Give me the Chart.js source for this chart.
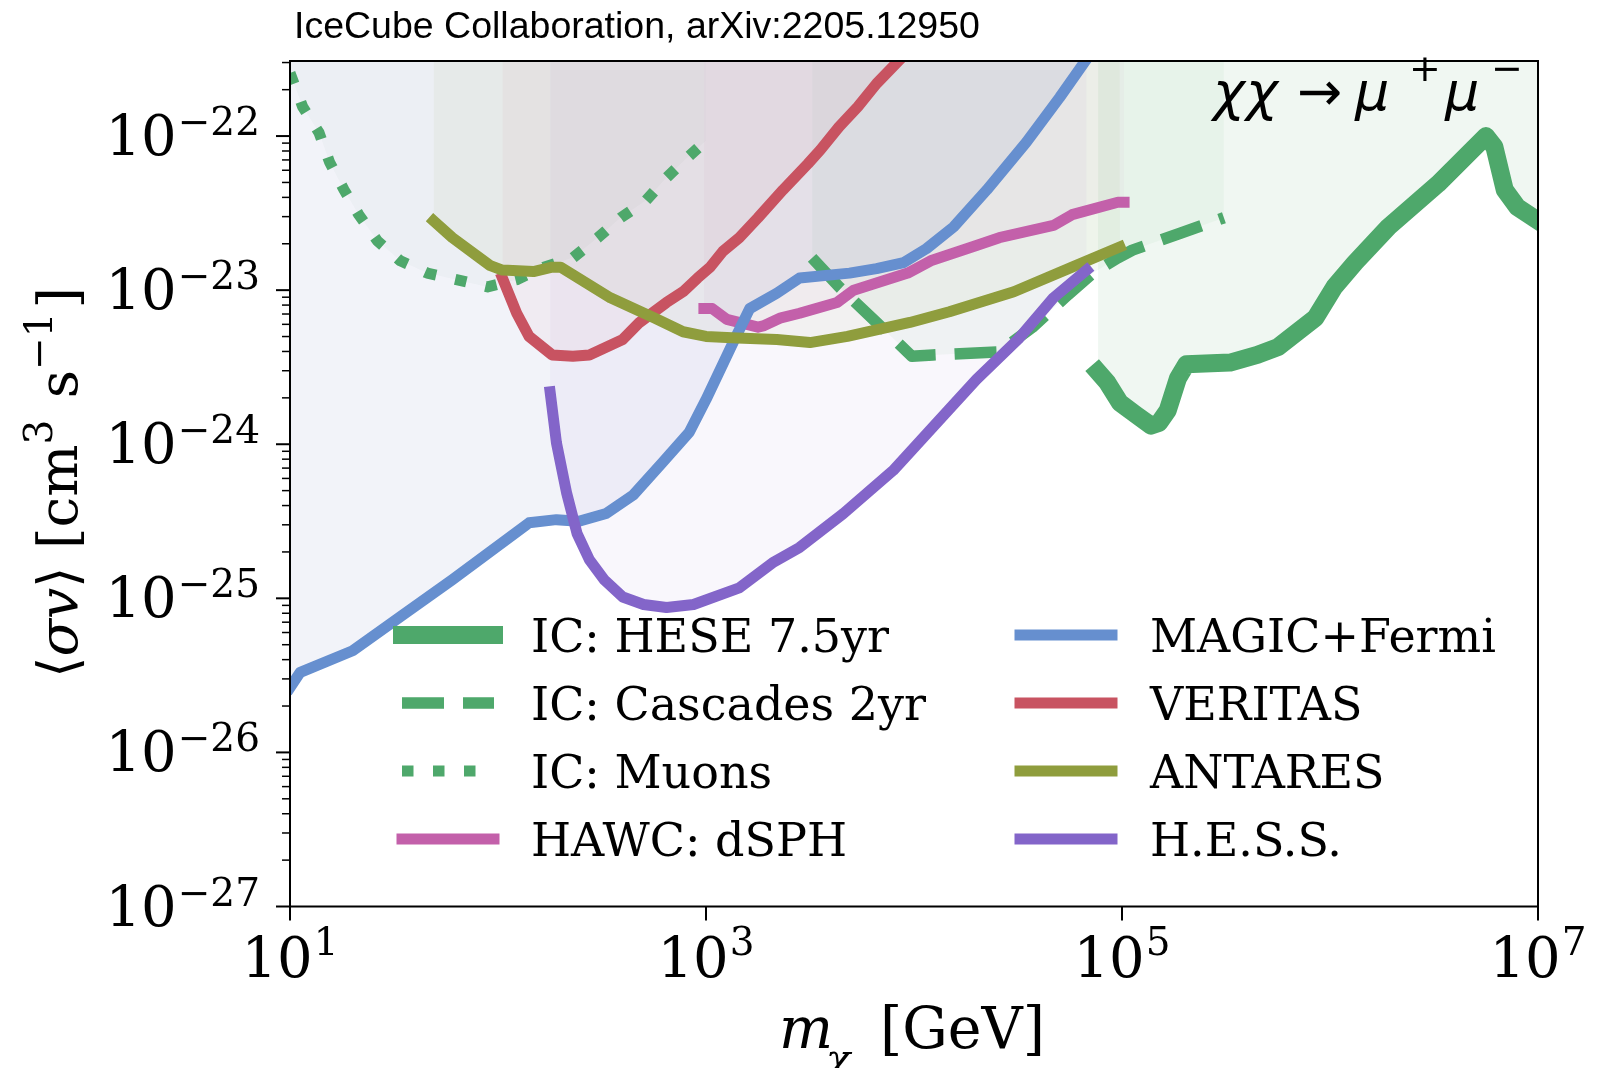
<!DOCTYPE html>
<html lang="en">
<head>
    <meta charset="UTF-8">
    <title>IceCube chi chi -> mu+ mu- limits</title>
    <script src="https://cdn.jsdelivr.net/npm/chart.js"></script>
    <style>
        body { margin: 0; background: #fff; }
        #wrap { width: 1608px; height: 1068px; }
    </style>
</head>
<body>
<div id="wrap"><canvas id="limits" width="1608" height="1068"></canvas></div>

<script>
    // values: m_chi in GeV, <sigma v> in cm^3 s^-1
    const heseMass = [7.67e4, 8.51e4, 9.77e4, 1.17e5, 1.38e5, 1.51e5, 1.66e5, 1.86e5, 2.04e5, 3.31e5, 4.47e5, 5.62e5, 8.51e5, 1.05e6, 1.32e6, 1.91e6, 3.31e6, 5.62e6, 6.17e6, 6.92e6, 7.94e6, 1e7];
    const heseSigmaV = [2.95e-24, 2.51e-24, 1.86e-24, 1.55e-24, 1.32e-24, 1.38e-24, 1.66e-24, 2.69e-24, 3.31e-24, 3.39e-24, 3.80e-24, 4.27e-24, 6.61e-24, 1.05e-23, 1.51e-23, 2.57e-23, 4.90e-23, 1.00e-22, 8.51e-23, 4.47e-23, 3.47e-23, 2.82e-23];

    const cascadesMass = [3236, 4365, 6607, 9772, 12303, 25704, 37154, 54954, 72444, 95499, 112202, 190546, 309030];
    const cascadesSigmaV = [1.62e-23, 1.05e-23, 6.17e-24, 3.72e-24, 3.80e-24, 3.98e-24, 5.75e-24, 9.33e-24, 1.29e-23, 1.62e-23, 1.82e-23, 2.34e-23, 2.95e-23];

    const muonsMass = [10, 11.5, 13.8, 15.5, 18.2, 21.4, 26.3, 33.9, 45.7, 63.1, 89.1, 123, 166, 229, 302, 389, 513, 646, 813, 1000];
    const muonsSigmaV = [2.57e-22, 1.55e-22, 1.05e-22, 6.76e-23, 4.47e-23, 3.09e-23, 2.09e-23, 1.55e-23, 1.29e-23, 1.17e-23, 1.05e-23, 1.17e-23, 1.41e-23, 1.62e-23, 2.19e-23, 2.95e-23, 3.80e-23, 5.37e-23, 7.24e-23, 9.33e-23];

    const hawcMass = [977, 1072, 1259, 1778, 1905, 2291, 2818, 3162, 4266, 5129, 9333, 12023, 19953, 25704, 46774, 57544, 95499, 102329];
    const hawcSigmaV = [7.59e-24, 7.59e-24, 6.46e-24, 5.75e-24, 5.89e-24, 6.61e-24, 7.08e-24, 7.41e-24, 8.32e-24, 1.00e-23, 1.29e-23, 1.55e-23, 1.95e-23, 2.19e-23, 2.63e-23, 3.09e-23, 3.72e-23, 3.72e-23];

    const magicMass = [10, 11.2, 20.0, 33.9, 60.3, 141, 191, 245, 331, 447, 617, 832, 1000, 1349, 1622, 2188, 2818, 4898, 6607, 8913, 11482, 15488, 22387, 34674, 50119, 67608];
    const magicSigmaV = [2.63e-26, 3.31e-26, 4.57e-26, 7.59e-26, 1.32e-25, 3.09e-25, 3.24e-25, 3.16e-25, 3.55e-25, 4.68e-25, 7.59e-25, 1.20e-24, 1.95e-24, 4.57e-24, 7.59e-24, 9.55e-24, 1.20e-23, 1.29e-23, 1.38e-23, 1.51e-23, 1.86e-23, 2.57e-23, 4.47e-23, 9.12e-23, 1.78e-22, 3.16e-22];

    const veritasMass = [105, 123, 141, 182, 229, 275, 398, 479, 646, 776, 912, 1047, 1202, 1445, 1778, 2344, 3090, 3548, 4365, 5370, 6607, 8318];
    const veritasSigmaV = [1.20e-23, 7.08e-24, 5.01e-24, 3.80e-24, 3.72e-24, 3.80e-24, 4.79e-24, 6.17e-24, 8.32e-24, 9.77e-24, 1.20e-23, 1.41e-23, 1.78e-23, 2.19e-23, 2.95e-23, 4.47e-23, 6.61e-23, 8.13e-23, 1.15e-22, 1.55e-22, 2.19e-22, 3.02e-22];

    const antaresMass = [49.0, 60.3, 91.2, 105, 148, 182, 200, 347, 562, 776, 1000, 1413, 2188, 3162, 4786, 9550, 14791, 30200, 57544, 97724];
    const antaresSigmaV = [2.82e-23, 2.19e-23, 1.45e-23, 1.35e-23, 1.32e-23, 1.41e-23, 1.41e-23, 8.91e-24, 6.61e-24, 5.37e-24, 5.01e-24, 4.90e-24, 4.79e-24, 4.57e-24, 5.01e-24, 6.17e-24, 7.24e-24, 9.77e-24, 1.41e-23, 1.91e-23];

    const hessMass = [178, 191, 214, 240, 275, 324, 398, 501, 646, 871, 1445, 2089, 2818, 4571, 7943, 12303, 19953, 31623, 46774, 67608];
    const hessSigmaV = [2.19e-24, 1.02e-24, 4.79e-25, 2.63e-25, 1.78e-25, 1.32e-25, 1.02e-25, 9.12e-26, 8.71e-26, 9.12e-26, 1.17e-25, 1.70e-25, 2.14e-25, 3.55e-25, 6.76e-25, 1.29e-24, 2.63e-24, 4.79e-24, 8.91e-24, 1.35e-23];

    const xMin = 10, xMax = 1e7;
    const yMin = 1e-27, yMax = 3.07e-22;
    const xMajorTicks = [1e1, 1e3, 1e5, 1e7];
    const xTickExponents = ['1', '3', '5', '7'];
    const yMajorTicks = [1e-27, 1e-26, 1e-25, 1e-24, 1e-23, 1e-22];
    const yTickExponents = ['\u221227', '\u221226', '\u221225', '\u221224', '\u221223', '\u221222'];

    const legendLeft = ['IC: HESE 7.5yr', 'IC: Cascades 2yr', 'IC: Muons', 'HAWC: dSPH'];
    const legendRight = ['MAGIC+Fermi', 'VERITAS', 'ANTARES', 'H.E.S.S.'];

    const green = '#4ea86b';

    function pts(xs, ys) {
        return xs.map((x, i) => ({x: x, y: ys[i]}));
    }

    function curve(label, xs, ys, color, fill, width, dash, order) {
        return {
            label: label,
            data: pts(xs, ys),
            borderColor: color,
            backgroundColor: fill,
            borderWidth: width,
            borderDash: dash,
            borderCapStyle: dash.length ? 'butt' : 'square',
            borderJoinStyle: 'round',
            fill: 'end',
            pointRadius: 0,
            tension: 0,
            clip: 0,
            order: order
        };
    }

    const datasets = [
        curve('IC: HESE 7.5yr', heseMass, heseSigmaV, green, 'rgba(78,168,107,0.085)', 18, [], 8),
        curve('IC: Cascades 2yr', cascadesMass, cascadesSigmaV, green, 'rgba(78,168,107,0.06)', 11.5, [42, 19], 7),
        curve('IC: Muons', muonsMass, muonsSigmaV, green, 'rgba(90,150,120,0.035)', 11, [11.5, 19.5], 6),
        curve('HAWC: dSPH', hawcMass, hawcSigmaV, '#c360aa', 'rgba(195,96,170,0.045)', 11, [], 5),
        curve('MAGIC+Fermi', magicMass, magicSigmaV, '#668fcf', 'rgba(110,125,190,0.09)', 11, [], 4),
        curve('VERITAS', veritasMass, veritasSigmaV, '#c85361', 'rgba(200,83,97,0.05)', 11, [], 3),
        curve('ANTARES', antaresMass, antaresSigmaV, '#8f9d3d', 'rgba(143,157,61,0.06)', 11, [], 2),
        curve('H.E.S.S.', hessMass, hessSigmaV, '#8365c9', 'rgba(131,101,201,0.05)', 11, [], 1)
    ];

    function powerLabel(ctx, exp, x, baseY, mainPx, supPx, rise, align) {
        ctx.font = mainPx + 'px "DejaVu Serif"';
        const w1 = ctx.measureText('10').width;
        ctx.font = supPx + 'px "DejaVu Serif"';
        const w2 = ctx.measureText(exp).width;
        let x1;
        if (align === 'right') x1 = x - w2 - w1 - 1;
        else x1 = x - (w1 + 1 + w2) / 2;
        ctx.textAlign = 'left';
        ctx.textBaseline = 'alphabetic';
        ctx.font = mainPx + 'px "DejaVu Serif"';
        ctx.fillText('10', x1, baseY);
        ctx.font = supPx + 'px "DejaVu Serif"';
        ctx.fillText(exp, x1 + w1 + 1, baseY - rise);
    }

    // draws sequential text pieces: [text, font, dy, extra gap]
    function pieces(ctx, parts, x, y) {
        ctx.textAlign = 'left';
        ctx.textBaseline = 'alphabetic';
        parts.forEach(p => {
            ctx.font = p[1];
            ctx.fillText(p[0], x, y - (p[2] || 0));
            x += ctx.measureText(p[0]).width + (p[3] || 0);
        });
    }

    const decorations = {
        id: 'decorations',
        afterDatasetsDraw(chart) {
            const ctx = chart.ctx;
            const area = chart.chartArea;
            const xs = chart.scales.x, ys = chart.scales.y;
            ctx.save();
            ctx.fillStyle = '#000';
            ctx.strokeStyle = '#000';

            // frame
            ctx.lineWidth = 2;
            ctx.strokeRect(area.left, area.top, area.right - area.left, area.bottom - area.top);

            // y ticks
            yMajorTicks.forEach(v => {
                const y = ys.getPixelForValue(v);
                ctx.beginPath();
                ctx.moveTo(area.left - 14, y);
                ctx.lineTo(area.left, y);
                ctx.stroke();
            });
            ctx.lineWidth = 1.5;
            for (let n = -27; n <= -22; n++) {
                for (let k = 2; k <= 9; k++) {
                    const v = k * Math.pow(10, n);
                    if (v > yMax) continue;
                    const y = ys.getPixelForValue(v);
                    ctx.beginPath();
                    ctx.moveTo(area.left - 8, y);
                    ctx.lineTo(area.left, y);
                    ctx.stroke();
                }
            }
            // x ticks
            ctx.lineWidth = 2;
            xMajorTicks.forEach(v => {
                const x = xs.getPixelForValue(v);
                ctx.beginPath();
                ctx.moveTo(x, area.bottom);
                ctx.lineTo(x, area.bottom + 14);
                ctx.stroke();
            });

            // tick labels
            yMajorTicks.forEach((v, i) => {
                const y = ys.getPixelForValue(v);
                powerLabel(ctx, yTickExponents[i], 260, y + 19, 56, 39, 20, 'right');
            });
            xMajorTicks.forEach((v, i) => {
                const x = xs.getPixelForValue(v);
                powerLabel(ctx, xTickExponents[i], x, 977, 56, 39, 22, 'center');
            });

            // axis titles
            ctx.textAlign = 'left';
            ctx.textBaseline = 'alphabetic';
            ctx.font = 'italic 57px "DejaVu Serif"';
            ctx.fillText('m', 779, 1048);
            ctx.font = 'italic 40px "DejaVu Serif"';
            ctx.fillText('\u03c7', 826, 1072);
            ctx.font = '57px "DejaVu Serif"';
            ctx.fillText('[GeV]', 880, 1048);

            ctx.save();
            ctx.translate(77, 678);
            ctx.rotate(-Math.PI / 2);
            pieces(ctx, [
                ['\u27e8', '55px "DejaVu Sans"'],
                ['\u03c3', 'italic 55px "DejaVu Serif"'],
                ['v', 'italic 55px "DejaVu Serif"'],
                ['\u27e9', '55px "DejaVu Sans"'],
                [' [cm', '55px "DejaVu Serif"'],
                ['3', '39px "DejaVu Serif"', 25, 4],
                [' s', '55px "DejaVu Serif"'],
                ['\u22121', '39px "DejaVu Serif"', 25, 4],
                [']', '55px "DejaVu Serif"']
            ], 0, 0);
            ctx.restore();

            // title
            ctx.font = '37.5px "Liberation Sans"';
            ctx.textAlign = 'left';
            ctx.fillText('IceCube Collaboration, arXiv:2205.12950', 294, 38);

            // channel annotation
            ctx.font = 'italic 54px "DejaVu Sans"';
            ctx.fillText('\u03c7', 1213, 110);
            ctx.fillText('\u03c7', 1246, 110);
            ctx.font = '54px "DejaVu Sans"';
            ctx.fillText('\u2192', 1297, 110);
            ctx.font = 'italic 54px "DejaVu Sans"';
            ctx.fillText('\u03bc', 1355, 110);
            ctx.fillText('\u03bc', 1445, 110);
            ctx.font = '38px "DejaVu Sans"';
            ctx.fillText('+', 1409, 81);
            ctx.fillText('\u2212', 1491, 81);

            // legend
            const rows = [635, 703, 771, 839];
            const cols = [{x0: 402, x1: 494, tx: 531, labels: legendLeft}, {x0: 1020, x1: 1112, tx: 1150, labels: legendRight}];
            cols.forEach(col => {
                col.labels.forEach((lab, r) => {
                    const ds = chart.data.datasets.find(d => d.label === lab);
                    const y = rows[r];
                    ctx.save();
                    ctx.strokeStyle = ds.borderColor;
                    ctx.lineWidth = ds.borderWidth;
                    ctx.setLineDash(ds.borderDash);
                    ctx.lineCap = ds.borderCapStyle;
                    ctx.beginPath();
                    ctx.moveTo(col.x0, y);
                    ctx.lineTo(col.x1, y);
                    ctx.stroke();
                    ctx.restore();
                    ctx.font = '46px "DejaVu Serif"';
                    ctx.textAlign = 'left';
                    ctx.textBaseline = 'alphabetic';
                    ctx.fillText(lab, col.tx, y + 17);
                });
            });
            ctx.restore();
        }
    };

    new Chart(document.getElementById('limits').getContext('2d'), {
        type: 'line',
        data: {datasets: datasets},
        options: {
            responsive: false,
            devicePixelRatio: 1,
            animation: false,
            layout: {padding: {left: 290, right: 70, top: 61, bottom: 161.5}},
            scales: {
                x: {
                    type: 'logarithmic', min: xMin, max: xMax,
                    ticks: {display: false},
                    grid: {display: false, drawTicks: false},
                    border: {display: false}
                },
                y: {
                    type: 'logarithmic', min: yMin, max: yMax,
                    ticks: {display: false},
                    grid: {display: false, drawTicks: false},
                    border: {display: false}
                }
            },
            plugins: {
                legend: {display: false},
                tooltip: {enabled: false},
                filler: {drawTime: 'beforeDatasetsDraw'}
            }
        },
        plugins: [decorations]
    });
</script>
</body>
</html>
